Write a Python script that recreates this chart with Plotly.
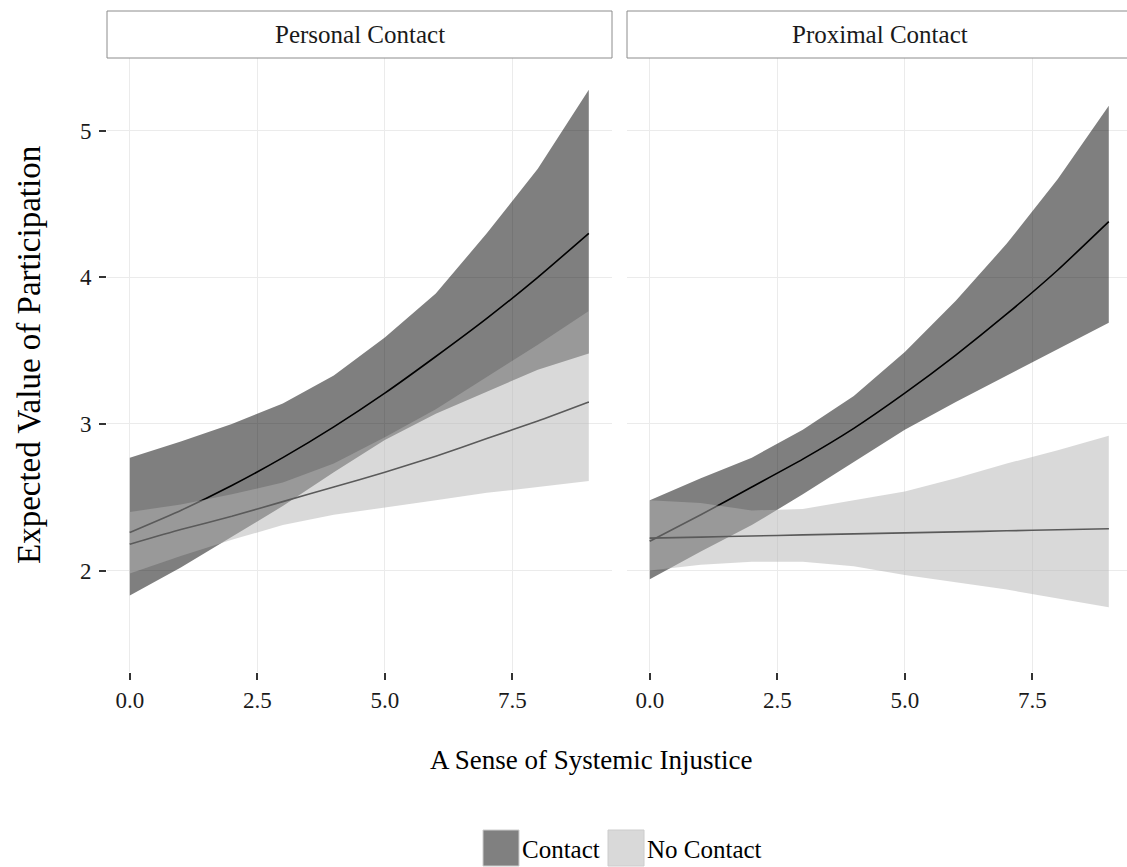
import plotly.graph_objects as go

W, H = 1127, 867
FONT = "Liberation Serif"

# ---- data ----
x_vals = [0, 1, 2, 3, 4, 5, 6, 7, 8, 9]
panels = ["Personal Contact", "Proximal Contact"]
groups = ["Contact", "No Contact"]

pc_contact_fit = [2.26, 2.41, 2.58, 2.77, 2.98, 3.21, 3.46, 3.72, 4.00, 4.30]
pc_contact_lo = [1.83, 2.02, 2.23, 2.44, 2.67, 2.89, 3.07, 3.22, 3.37, 3.48]
pc_contact_hi = [2.77, 2.88, 3.00, 3.14, 3.33, 3.59, 3.89, 4.30, 4.74, 5.28]
pc_nocontact_fit = [2.18, 2.28, 2.37, 2.47, 2.57, 2.67, 2.78, 2.90, 3.02, 3.15]
pc_nocontact_lo = [1.98, 2.10, 2.21, 2.31, 2.38, 2.43, 2.48, 2.53, 2.57, 2.61]
pc_nocontact_hi = [2.40, 2.45, 2.52, 2.60, 2.73, 2.91, 3.10, 3.32, 3.54, 3.77]

px_contact_fit = [2.20, 2.38, 2.57, 2.76, 2.97, 3.21, 3.47, 3.75, 4.05, 4.38]
px_contact_lo = [1.94, 2.13, 2.31, 2.52, 2.74, 2.96, 3.15, 3.33, 3.51, 3.69]
px_contact_hi = [2.48, 2.63, 2.77, 2.96, 3.19, 3.49, 3.84, 4.23, 4.67, 5.17]
px_nocontact_fit = [2.221, 2.228, 2.236, 2.243, 2.250, 2.257, 2.264, 2.271, 2.278, 2.285]
px_nocontact_lo = [2.00, 2.04, 2.06, 2.06, 2.03, 1.97, 1.92, 1.87, 1.81, 1.75]
px_nocontact_hi = [2.48, 2.46, 2.41, 2.42, 2.48, 2.54, 2.63, 2.73, 2.82, 2.92]

x_tickvals = [0, 2.5, 5, 7.5]
x_ticktext = ["0.0", "2.5", "5.0", "7.5"]
y_tickvals = [2, 3, 4, 5]
y_ticktext = ["2", "3", "4", "5"]

x_title = "A Sense of Systemic Injustice"
y_title = "Expected Value of Participation"

fills = {"Contact": "rgba(0,0,0,0.5)", "No Contact": "rgba(179,179,179,0.5)"}
legend_swatch = {"Contact": "#808080", "No Contact": "#d9d9d9"}

panel_data = [
    {"Contact": (pc_contact_fit, pc_contact_lo, pc_contact_hi),
     "No Contact": (pc_nocontact_fit, pc_nocontact_lo, pc_nocontact_hi)},
    {"Contact": (px_contact_fit, px_contact_lo, px_contact_hi),
     "No Contact": (px_nocontact_fit, px_nocontact_lo, px_nocontact_hi)},
]

fig = go.Figure()
axes = [("x", "y"), ("x2", "y2")]
for (xa, ya), pdata in zip(axes, panel_data):
    # lines first (ribbons are drawn over them, as in the original)
    for g in groups:
        fit, lo, hi = pdata[g]
        fig.add_trace(go.Scatter(x=x_vals, y=fit, mode="lines", xaxis=xa, yaxis=ya,
                                 line=dict(color="black", width=1.6, shape="spline", smoothing=0.5),
                                 showlegend=False, hoverinfo="skip"))
    for g in groups:
        fit, lo, hi = pdata[g]
        fig.add_trace(go.Scatter(x=x_vals + x_vals[::-1], y=hi + lo[::-1], mode="lines",
                                 fill="toself", fillcolor=fills[g], line=dict(width=0),
                                 xaxis=xa, yaxis=ya, name=g, showlegend=False, hoverinfo="skip"))

def px_x(p):
    return p / W

def px_y(p):
    return 1 - p / H

tickfont = dict(family=FONT, size=23, color="#1a1a1a")
common_x = dict(tickvals=x_tickvals, ticktext=x_ticktext, showgrid=True, gridcolor="#ebebeb",
                gridwidth=1, zeroline=False, showline=False, ticks="outside", ticklen=7,
                tickwidth=1.5, tickcolor="#333333", tickfont=tickfont)
ydom = [px_y(672), px_y(58)]
common_y = dict(tickvals=y_tickvals, ticktext=y_ticktext, showgrid=True, gridcolor="#ebebeb",
                gridwidth=1, zeroline=False, showline=False, range=[1.308, 5.496], domain=ydom)

fig.update_layout(
    width=W, height=H, margin=dict(l=0, r=0, t=0, b=0),
    paper_bgcolor="white", plot_bgcolor="white",
    font=dict(family=FONT, color="black"),
    xaxis=dict(domain=[px_x(107), px_x(612)], range=[-0.447, 9.455], anchor="y", **common_x),
    xaxis2=dict(domain=[px_x(627), 1.0], range=[-0.447, 9.357], anchor="y2", **common_x),
    yaxis=dict(anchor="x", ticks="outside", ticklen=7, tickwidth=1.5, tickcolor="#333333",
               tickfont=tickfont, ticklabelstandoff=3, **common_y),
    yaxis2=dict(anchor="x2", showticklabels=False, ticks="", **common_y),
)

shapes = []
annotations = []
# facet strips
strips = [(107, 612), (627, 1132)]
for (l, r), name in zip(strips, panels):
    shapes.append(dict(type="rect", xref="paper", yref="paper", x0=px_x(l), x1=px_x(r),
                       y0=px_y(58), y1=px_y(11), fillcolor="white",
                       line=dict(color="#8c8c8c", width=1)))
    annotations.append(dict(text=name, xref="paper", yref="paper", x=px_x((l + r) / 2),
                            y=px_y(34.5), showarrow=False, xanchor="center", yanchor="middle",
                            font=dict(family=FONT, size=25, color="#1a1a1a")))

# axis titles
annotations.append(dict(text=x_title, xref="paper", yref="paper", x=px_x(591), y=px_y(760),
                        showarrow=False, xanchor="center", yanchor="middle",
                        font=dict(family=FONT, size=27, color="black")))
annotations.append(dict(text=y_title, xref="paper", yref="paper", x=px_x(29), y=px_y(355),
                        showarrow=False, xanchor="center", yanchor="middle", textangle=-90,
                        font=dict(family=FONT, size=33, color="black")))

# legend
legend_items = [("Contact", 483, 520), ("No Contact", 608, 645)]
for g, sx, tx in legend_items:
    shapes.append(dict(type="rect", xref="paper", yref="paper", x0=px_x(sx), x1=px_x(sx + 36),
                       y0=px_y(866), y1=px_y(830), fillcolor=legend_swatch[g],
                       line=dict(color="#cccccc", width=1)))
    annotations.append(dict(text=g, xref="paper", yref="paper", x=px_x(tx), y=px_y(849),
                            showarrow=False, xanchor="left", yanchor="middle",
                            font=dict(family=FONT, size=25, color="black")))

fig.update_layout(shapes=shapes, annotations=annotations)
fig.write_html("out.html")
